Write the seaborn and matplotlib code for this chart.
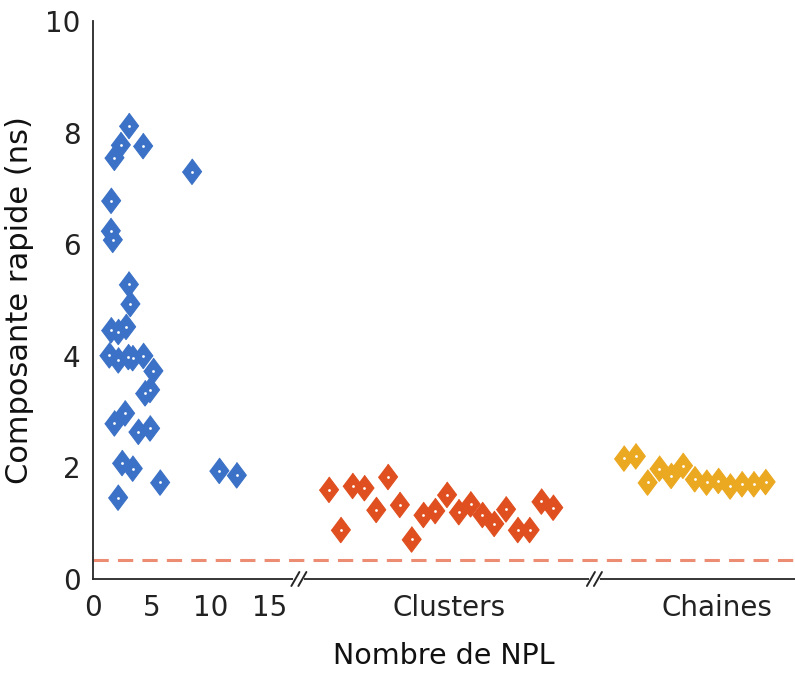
import matplotlib.pyplot as plt
import pandas as pd
import seaborn as sns

# NPL count / composante rapide (ns)
npl_x = [3.05, 2.35, 4.24, 1.81, 8.39, 1.53, 1.50, 1.67, 3.03, 3.16,
         1.53, 2.14, 2.80, 1.38, 2.14, 2.99, 3.36, 4.26, 5.11, 4.41,
         4.83, 2.71, 1.81, 3.84, 4.83, 2.46, 3.36, 5.68, 2.12, 10.7, 12.18]
npl_y = [8.12, 7.78, 7.76, 7.55, 7.30, 6.78, 6.24, 6.08, 5.28, 4.93,
         4.46, 4.43, 4.52, 4.01, 3.92, 3.98, 3.96, 4.00, 3.73, 3.33,
         3.39, 2.97, 2.79, 2.64, 2.70, 2.08, 1.98, 1.73, 1.46, 1.94, 1.86]

clusters_y = [1.60, 0.88, 1.67, 1.63, 1.24, 1.83, 1.33, 0.71, 1.15, 1.22,
              1.51, 1.20, 1.34, 1.15, 0.99, 1.25, 0.88, 0.88, 1.39, 1.28]
chaines_y = [2.16, 2.20, 1.73, 1.98, 1.85, 2.03, 1.79, 1.73, 1.76, 1.66,
             1.70, 1.70, 1.74]

threshold = 0.34

# layout of the broken x axis (same units as NPL)
clusters_start = 20
chaines_start = 45
breaks = [17.45, 42.5]
xticks = [0, 5, 10, 15, 30.2, 52.9]
xticklabels = ["0", "5", "10", "15", "Clusters", "Chaines"]

df = pd.DataFrame({
    "x": npl_x
    + [clusters_start + i for i in range(len(clusters_y))]
    + [chaines_start + i for i in range(len(chaines_y))],
    "y": npl_y + clusters_y + chaines_y,
    "group": ["npl"] * len(npl_y) + ["clusters"] * len(clusters_y)
    + ["chaines"] * len(chaines_y),
})

palette = {"npl": "#3B71C6", "clusters": "#E04F1F", "chaines": "#EBA922"}

sns.set_style("white")
plt.rcParams["font.family"] = ["DejaVu Sans"]
plt.rcParams["axes.edgecolor"] = "#262626"

fig = plt.figure(figsize=(7.95, 6.73), dpi=100)
ax = fig.add_axes([93 / 795, 1 - 579 / 673, 702 / 795, 558 / 673])

diamond = [(0, 1), (0.75, 0), (0, -1), (-0.75, 0)]
sns.scatterplot(data=df, x="x", y="y", hue="group", palette=palette,
                marker=diamond, s=340, edgecolor="face", linewidth=0.8,
                legend=False, ax=ax, zorder=3)
sns.scatterplot(data=df, x="x", y="y", color="white", marker="o", s=4,
                linewidth=0, legend=False, ax=ax, zorder=4)

ax.axhline(threshold, color="#E8704F", alpha=0.8, lw=2.2, ls=(0, (5, 3)), zorder=2)

ax.set_xlim(0, 59.5)
ax.set_ylim(0, 10)
ax.set_yticks([0, 2, 4, 6, 8, 10])
ax.set_xticks(xticks)
ax.set_xticklabels(xticklabels)
ax.tick_params(direction="in", length=5, width=1.2, color="#262626",
               labelsize=20, labelcolor="#222222")
ax.tick_params(axis="y", pad=9)
ax.tick_params(axis="x", pad=11)
ax.set_xlabel("Nombre de NPL", fontsize=20.5, labelpad=14, color="#111111")
ax.set_ylabel("Composante rapide (ns)", fontsize=22, labelpad=8, color="#111111")

ax.spines["top"].set_visible(False)
ax.spines["right"].set_visible(False)
for s in ("left", "bottom"):
    ax.spines[s].set_linewidth(1.3)

# axis break marks
trans = ax.get_xaxis_transform()
x0, x1 = ax.get_xlim()
px = (x1 - x0) / 702
dy = 7 / 558
for b in breaks:
    ax.plot([b - 3.5 * px, b + 3.5 * px], [0, 0], color="white", lw=3,
            transform=trans, clip_on=False, zorder=5)
    for off in (-3.5 * px, 3.5 * px):
        ax.plot([b + off - 4 * px, b + off + 4 * px], [-dy, dy],
                color="#262626", lw=1.4, transform=trans, clip_on=False, zorder=6)

fig.savefig("out.png", dpi=100)
